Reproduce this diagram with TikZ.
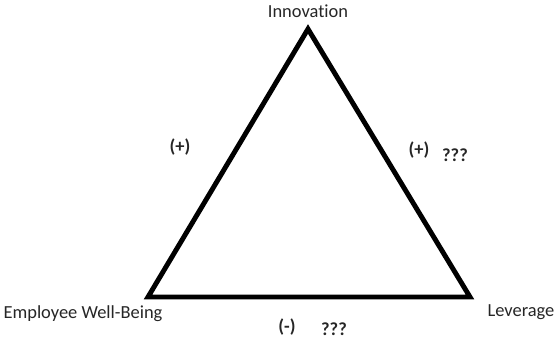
\documentclass[tikz,border=0pt]{standalone}
\usepackage{fontspec}
\setmainfont{Carlito}[Ligatures=NoCommon]
\usetikzlibrary{positioning}

\begin{document}
\begin{tikzpicture}[x=0.02cm, y=-0.02cm, every node/.style={align=center, font=\fontsize{10.5}{12}\selectfont}]
      \useasboundingbox (0,0) rectangle (555,339);
      \tikzset{corner/.style={text=black!85}, sign/.style={font=\fontsize{10.5}{12}\selectfont\bfseries, text=black!85}}
      % corners of the triangle
      \coordinate (top) at (308,29);
      \coordinate (bl) at (148,297);
      \coordinate (br) at (470,297);
      \draw[line width=2.8pt] (top) -- (br) -- (bl) -- cycle;
      \node[corner] (innov) at (308,11) {Innovation};
      \node[corner] (emp) at (83,314) {Employee Well-Being};
      \node[corner] (lev) at (521,312) {Leverage};
      % signs on the sides
      \node[sign] (left) at (180,147) {(+)};
      \node[sign] (right) at (419,150) {(+)};
      \node[sign] (rightq) at (455,155) {???};
      \node[sign] (bottom) at (287,327) {(-)};
      \node[sign] (bottomq) at (334,329) {???};
    \end{tikzpicture}
\end{document}
